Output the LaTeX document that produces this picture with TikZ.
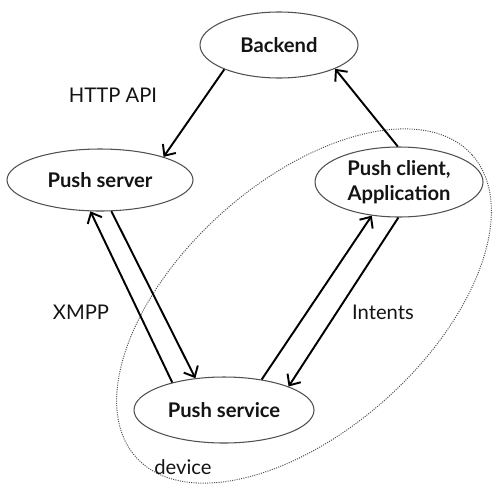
\documentclass[tikz,border=0pt]{standalone}
\usepackage{fontspec}
\setmainfont{Lato}
\usetikzlibrary{arrows.meta,shapes.geometric,positioning}
\definecolor{rimgray}{RGB}{80,80,80}
\definecolor{darktext}{RGB}{20,20,20}

\begin{document}
\begin{tikzpicture}[
  blob/.style={draw=rimgray,fill=white,ellipse,inner sep=0pt,line width=0.6pt,
               font=\fontsize{11.5}{14.5}\selectfont\bfseries,text=darktext,align=center},
  tag/.style={font=\fontsize{11.5}{14}\selectfont,text=darktext},
  arr/.style={-{Straight Barb[length=5pt,width=9pt]},line width=1.1pt,color=black}]
\useasboundingbox (0,0) rectangle (10,9.86);
% device boundary
\draw[dash pattern=on 0.6pt off 0.7pt,rimgray,line width=0.55pt,rotate around={42:(6.08,3.74)}]
  (6.08,3.74) ellipse (4.52 and 2.48);
\node[blob,minimum width=3.16cm,minimum height=1.32cm](backend) at (5.58,8.96) {Backend};
\node[blob,minimum width=3.72cm,minimum height=1.24cm](server) at (2.0,6.26) {Push server};
\node[blob,minimum width=3.36cm,minimum height=1.4cm](client) at (7.98,6.22)
  {Push client,\\Application};
\node[blob,minimum width=3.6cm,minimum height=1.32cm](service) at (4.48,1.66) {Push service};
\draw[arr](backend.-156)--(server.20);
\draw[arr](client.92)--(backend.-23);
\draw[arr](service.152)--(server.-107);
\draw[arr](server.-70)--(service.132);
\draw[arr](service.39)--(client.-129);
\draw[arr](client.-91)--(service.20);
% labels
\node[tag](http) at (2.26,7.96) {HTTP API};
\node[tag](xmpp) at (1.62,3.62) {XMPP};
\node[tag](intents) at (7.66,3.62) {Intents};
\node[tag](device) at (3.66,0.52) {device};
\end{tikzpicture}
\end{document}
